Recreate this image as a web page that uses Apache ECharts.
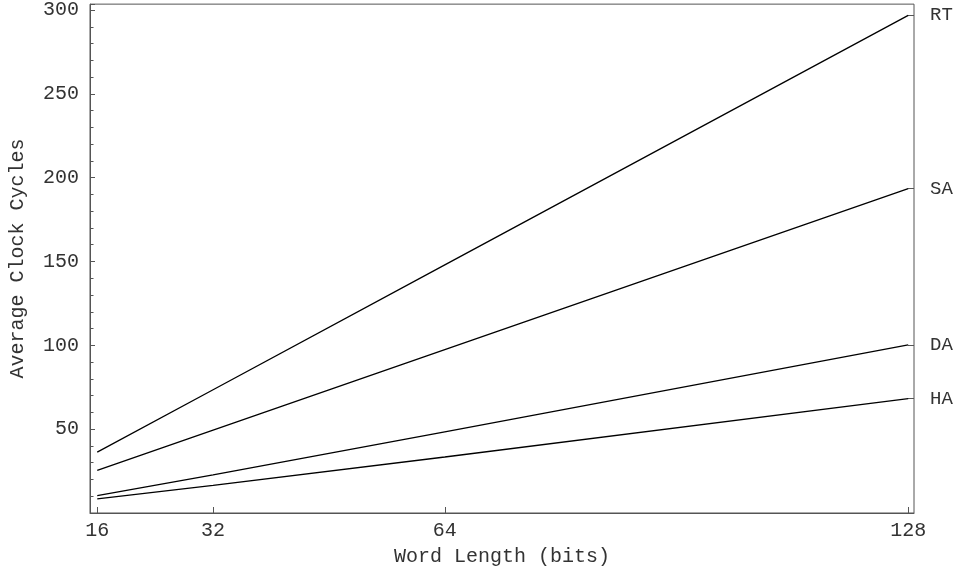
<!DOCTYPE html>
<html>
<head>
<meta charset="utf-8">
<script src="https://cdn.jsdelivr.net/npm/echarts@6/dist/echarts.min.js"></script>
<style>html,body{margin:0;padding:0;background:#fff;}#c{width:961px;height:573px;}</style>
</head>
<body>
<div id="c"></div>
<script>
// Data
const wordLengths = [16, 32, 64, 128];
const seriesNames = ['RT', 'SA', 'DA', 'HA'];
const rtValues = [36.3, 73.5, 148, 296.8];
const saValues = [25.4, 49.4, 97.4, 193.4];
const daValues = [10.4, 22.7, 48.4, 100.3];
const haValues = [8.4, 16.5, 33.4, 68.2];
const xTickLabels = [16, 32, 64, 128];
const yTickLabels = [50, 100, 150, 200, 250, 300];

const allValues = [rtValues, saValues, daValues, haValues];
const endValues = allValues.map(a => a[a.length - 1]);

const FONT = 'Liberation Mono';
const TXT = '#333';
const AX = '#555';
const YMIN = 0, YMAX = 303.5;

const chart = echarts.init(document.getElementById('c'), null, {renderer: 'canvas'});
chart.setOption({
  animation: false,
  backgroundColor: '#fff',
  grid: {left: 87, right: 47, top: 2, bottom: 60, show: true, borderColor: AX, borderWidth: 1, containLabel: false},
  xAxis: {
    type: 'value', min: 15, max: 128.8,
    name: 'Word Length (bits)', nameLocation: 'middle', nameGap: 34,
    nameTextStyle: {fontFamily: FONT, fontSize: 20, color: TXT},
    axisLine: {show: true, lineStyle: {color: AX, width: 1}},
    axisTick: {show: true, inside: true, length: 6, customValues: xTickLabels, lineStyle: {color: AX}},
    axisLabel: {show: true, customValues: xTickLabels, margin: 8, fontFamily: FONT, fontSize: 20, color: TXT},
    splitLine: {show: false}
  },
  yAxis: [{
    type: 'value', min: YMIN, max: YMAX, interval: 50,
    name: 'Average Clock Cycles', nameLocation: 'middle', nameGap: 62, nameRotate: 90,
    nameTextStyle: {fontFamily: FONT, fontSize: 20, color: TXT},
    axisLine: {show: true, lineStyle: {color: AX, width: 1}},
    axisTick: {show: true, inside: true, length: 5, lineStyle: {color: AX}},
    minorTick: {show: true, splitNumber: 5, length: 3.5, lineStyle: {color: AX}},
    axisLabel: {
      margin: 11, fontFamily: FONT, fontSize: 20, color: TXT, showMaxLabel: false,
      formatter: v => (yTickLabels.indexOf(v) >= 0 ? String(v) : '')
    },
    splitLine: {show: false}, minorSplitLine: {show: false}
  }, {
    type: 'value', min: YMIN, max: YMAX, position: 'right',
    axisLine: {show: false},
    axisTick: {show: true, inside: true, length: 6, customValues: endValues, lineStyle: {color: AX}},
    axisLabel: {
      customValues: endValues, margin: 16, fontFamily: FONT, fontSize: 19, color: TXT,
      formatter: v => { const i = endValues.indexOf(v); return i >= 0 ? seriesNames[i] : ''; }
    },
    splitLine: {show: false}
  }],
  series: allValues.map((vals, i) => ({
    name: seriesNames[i],
    type: 'line',
    yAxisIndex: 0,
    data: wordLengths.map((w, j) => [w, vals[j]]),
    showSymbol: false,
    symbol: 'none',
    lineStyle: {color: '#000', width: 1.3},
    silent: true
  }))
});
</script>
</body>
</html>
